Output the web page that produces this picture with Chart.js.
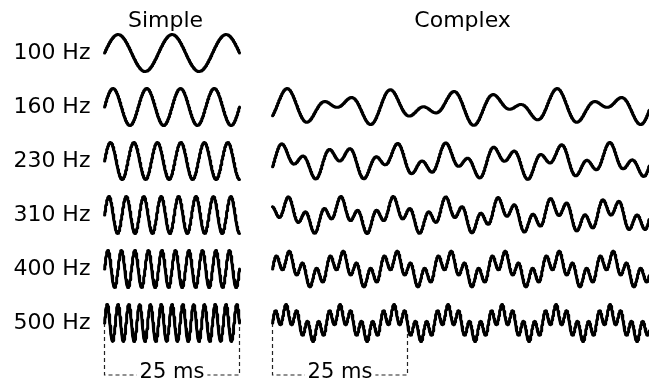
<!DOCTYPE html>
<html>
<head>
<meta charset="utf-8">
<script src="https://cdn.jsdelivr.net/npm/chart.js@4/dist/chart.umd.min.js"></script>
<style>
  html, body { margin: 0; padding: 0; background: #ffffff; }
  #wrap { width: 649px; height: 383px; }
</style>
</head>
<body>
<div id="wrap"><canvas id="c" width="649" height="383"></canvas></div>
<script>
// Row labels and the tone frequency (Hz) each row shows
const rowLabels = ['100 Hz', '160 Hz', '230 Hz', '310 Hz', '400 Hz', '500 Hz'];
const simpleFreqs = [100, 160, 230, 310, 400, 500];

// Complex rows: the row's tone plus a shared 100 Hz component, equal weight
const complexRows = [1, 2, 3, 4, 5];
const complexFreqs = [160, 230, 310, 400, 500];
const complexPhases = [-1.22, -0.68, 2.04, 0.0, 0.0];   // radians, tone component
const complexBaseFreq = 100;
const complexWeights = [0.5, 0.5];                      // tone, base

// Time spans (ms)
const simpleSpanMs = 25;
const complexSpanMs = 70;
const scaleBarMs = 25;
const panelTitles = ['Simple', 'Complex'];
const scaleBarLabel = '25 ms';

// ---- layout ----
const W = 649, H = 383;
const PX_PER_MS = 5.4;
const SIMPLE_X0 = 104.5, COMPLEX_X0 = 272.5;     // pixel where t = 0 sits
const ROW0_Y = 53, ROW_GAP_PX = 54, AMP_PX = 18.5;
const ROW_GAP = ROW_GAP_PX / AMP_PX;             // in amplitude units
const BAR_Y_PX = 375;
const STEP_MS = 0.05;
const FONT = '"DejaVu Sans", Verdana, sans-serif';

const rowOffset = i => -i * ROW_GAP;

function sampleSimple(f, i) {
  const pts = [];
  const n = Math.round(simpleSpanMs / STEP_MS);
  for (let k = 0; k <= n; k++) {
    const t = k * STEP_MS;
    pts.push({ x: t, y: rowOffset(i) + Math.sin(2 * Math.PI * f * t / 1000) });
  }
  return pts;
}

function sampleComplex(f, ph, i) {
  const pts = [];
  const n = Math.round(complexSpanMs / STEP_MS);
  for (let k = 0; k <= n; k++) {
    const t = k * STEP_MS;
    const v = complexWeights[0] * Math.sin(2 * Math.PI * f * t / 1000 + ph) +
              complexWeights[1] * Math.sin(2 * Math.PI * complexBaseFreq * t / 1000);
    pts.push({ x: t, y: rowOffset(i) + v });
  }
  return pts;
}

const waveStyle = {
  borderColor: '#000000', borderWidth: 3, pointRadius: 0, tension: 0,
  fill: false, borderCapStyle: 'round', borderJoinStyle: 'round'
};

const datasets = [];
simpleFreqs.forEach((f, i) => {
  datasets.push(Object.assign({ label: rowLabels[i], data: sampleSimple(f, i), xAxisID: 'xS' }, waveStyle));
});
complexFreqs.forEach((f, j) => {
  const i = complexRows[j];
  datasets.push(Object.assign({ label: rowLabels[i] + ' complex', data: sampleComplex(f, complexPhases[j], i), xAxisID: 'xC' }, waveStyle));
});

// scale bar brackets under the last row
const barBottom = (ROW0_Y - BAR_Y_PX) / AMP_PX;
const lastRow = rowOffset(rowLabels.length - 1);
['xS', 'xC'].forEach(ax => {
  datasets.push({
    label: 'bar ' + ax,
    data: [{ x: 0, y: lastRow }, { x: 0, y: barBottom }, { x: scaleBarMs, y: barBottom }, { x: scaleBarMs, y: lastRow }],
    xAxisID: ax, borderColor: '#222222', borderWidth: 1.2, borderDash: [4, 3],
    pointRadius: 0, tension: 0, fill: false
  });
});

const textPlugin = {
  id: 'panelText',
  afterDatasetsDraw(chart) {
    const ctx = chart.ctx;
    const xS = chart.scales.xS, xC = chart.scales.xC, y = chart.scales.y;
    ctx.save();
    ctx.fillStyle = '#000000';
    ctx.font = '22px ' + FONT;
    ctx.textBaseline = 'alphabetic';

    // column titles
    ctx.textAlign = 'center';
    ctx.fillText(panelTitles[0], xS.getPixelForValue(11.3), 27);
    ctx.fillText(panelTitles[1], xC.getPixelForValue(35.2), 27);

    // row labels
    ctx.textAlign = 'right';
    rowLabels.forEach((lab, i) => {
      const cy = y.getPixelForValue(rowOffset(i)) - 2.5;
      ctx.fillText(lab, xS.getPixelForValue(-2.6), cy + 8);
    });

    // scale bar labels, knocked out of the dashed line
    ctx.font = '21px ' + FONT;
    ctx.textAlign = 'center';
    const by = y.getPixelForValue(barBottom);
    [xS, xC].forEach(ax => {
      const cx = ax.getPixelForValue(scaleBarMs / 2);
      const w = ctx.measureText(scaleBarLabel).width;
      ctx.fillStyle = '#ffffff';
      ctx.fillRect(cx - w / 2 - 3, by - 4, w + 6, 8);
      ctx.fillStyle = '#000000';
      ctx.fillText(scaleBarLabel, cx, by + 3);
    });
    ctx.restore();
  }
};

new Chart(document.getElementById('c'), {
  type: 'line',
  data: { datasets },
  options: {
    responsive: false,
    animation: false,
    events: [],
    layout: { padding: 0 },
    plugins: { legend: { display: false }, tooltip: { enabled: false } },
    scales: {
      xS: { type: 'linear', display: false, min: -SIMPLE_X0 / PX_PER_MS, max: (W - SIMPLE_X0) / PX_PER_MS },
      xC: { type: 'linear', display: false, min: -COMPLEX_X0 / PX_PER_MS, max: (W - COMPLEX_X0) / PX_PER_MS },
      y: { type: 'linear', display: false, min: (ROW0_Y - H) / AMP_PX, max: ROW0_Y / AMP_PX }
    }
  },
  plugins: [textPlugin]
});
</script>
</body>
</html>
